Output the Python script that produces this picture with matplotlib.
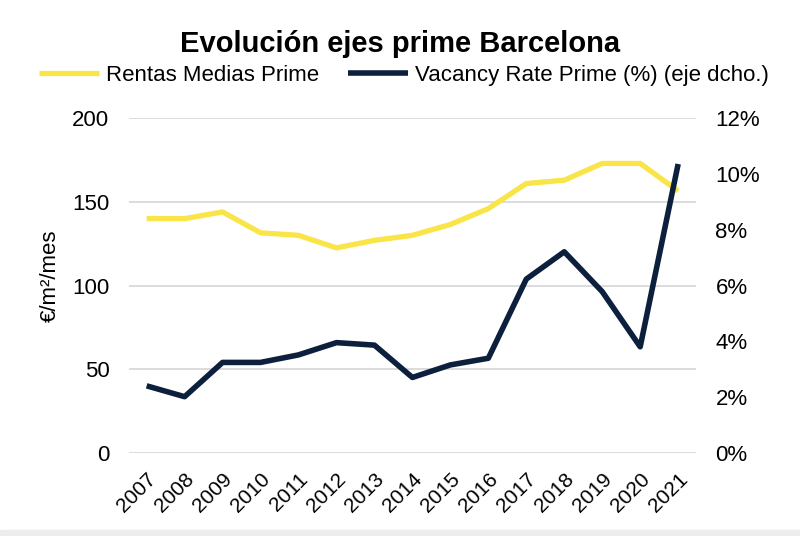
import numpy as np
import matplotlib
matplotlib.use('Agg')
import matplotlib.pyplot as plt
from matplotlib.patches import Rectangle

plt.rcParams['font.family'] = ['Liberation Sans', 'DejaVu Sans']

years = ['2007', '2008', '2009', '2010', '2011', '2012', '2013', '2014',
         '2015', '2016', '2017', '2018', '2019', '2020', '2021']
rentas = [140, 140, 144, 131.5, 130, 122.5, 127, 130,
          136.5, 146, 161, 163, 173, 173, 156.5]
vacancy = [2.40, 2.01, 3.24, 3.24, 3.51, 3.95, 3.86, 2.70,
           3.15, 3.39, 6.23, 7.21, 5.78, 3.80, 10.36]

yellow = '#f9e547'
navy = '#0c1f3d'

fig = plt.figure(figsize=(8, 5.36), dpi=100)
ax = fig.add_axes([0.161, 0.1554, 0.709, 0.6239])
ax2 = ax.twinx()

x = np.arange(len(years))
l1, = ax.plot(x, rentas, color=yellow, lw=3.8, solid_capstyle='butt', zorder=3)
l2, = ax2.plot(x, vacancy, color=navy, lw=4, solid_capstyle='butt', zorder=3)

ax.set_xlim(-0.47, len(years) - 1 + 0.47)
ax.set_ylim(0, 200)
ax.set_yticks([0, 50, 100, 150, 200])
ax2.set_ylim(0, 12)
ax2.set_yticks([0, 2, 4, 6, 8, 10, 12])
ax2.set_yticklabels(['%d%%' % v for v in [0, 2, 4, 6, 8, 10, 12]])

ax.set_xticks(x)
ax.set_xticklabels(years, rotation=45, ha='right', rotation_mode='anchor')

ax.grid(axis='y', color='#d9d9d9', lw=1.3)
ax.set_axisbelow(True)
for a in (ax, ax2):
    for s in a.spines.values():
        s.set_visible(False)
ax.tick_params(axis='y', length=0, pad=14, labelsize=16)
ax.tick_params(axis='x', length=0, pad=12, labelsize=15)
ax2.tick_params(axis='y', length=0, pad=14, labelsize=16)

ax.set_ylabel('€/m²/mes', fontsize=16, labelpad=8, y=0.53)

fig.text(0.5, 0.918, 'Evolución ejes prime Barcelona', ha='center', va='center',
         fontsize=21, fontweight='bold')
fig.legend([l1, l2], ['Rentas Medias Prime', 'Vacancy Rate Prime (%) (eje dcho.)'],
           loc='center', bbox_to_anchor=(0.505, 0.86), ncol=2, frameon=False,
           fontsize=16, handlelength=2.7, handletextpad=0.3, columnspacing=1.3)

# light grey strip along the bottom edge
fig.patches.append(Rectangle((0, 0), 1, 0.011, transform=fig.transFigure,
                             color='#ededed', zorder=0))

fig.savefig('out.png', dpi=100)
